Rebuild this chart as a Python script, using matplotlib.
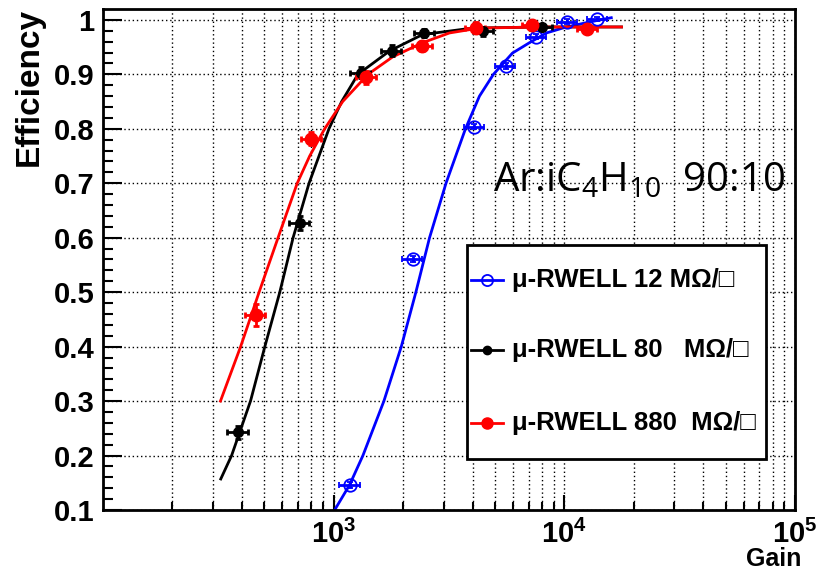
import matplotlib
matplotlib.use("Agg")
import matplotlib.pyplot as plt
from matplotlib.lines import Line2D
from matplotlib.patches import Rectangle
from matplotlib.ticker import FixedLocator, NullFormatter

plt.rcParams['font.family'] = ['Liberation Sans', 'DejaVu Sans']
plt.rcParams['mathtext.fontset'] = 'custom'
plt.rcParams['mathtext.rm'] = 'Open Sans'
plt.rcParams['mathtext.bf'] = 'Liberation Sans:bold'

black_gain = [384, 713, 1309, 1783, 2470, 4460, 8000]
black_eff = [0.243, 0.627, 0.903, 0.943, 0.976, 0.979, 0.987]
black_xerr = [40, 70, 130, 180, 250, 450, 800]
black_yerr = [0.012, 0.012, 0.010, 0.010, 0.008, 0.008, 0.006]

red_gain = [459, 800, 1385, 2420, 4130, 7260, 12600]
red_eff = [0.458, 0.782, 0.895, 0.952, 0.986, 0.990, 0.984]
red_xerr = [45, 80, 140, 240, 410, 730, 1260]
red_yerr = [0.020, 0.012, 0.012, 0.010, 0.010, 0.008, 0.008]

blue_gain = [1175, 2200, 4070, 5560, 7570, 10300, 13900]
blue_eff = [0.146, 0.561, 0.804, 0.915, 0.969, 0.997, 1.002]
blue_xerr = [120, 220, 400, 550, 750, 1000, 1400]
blue_yerr = [0.005, 0.005, 0.005, 0.005, 0.005, 0.004, 0.004]

# fit curves
black_fit_gain = [324, 361, 436, 503, 584, 667, 782, 954, 1083, 1274, 1748, 2427, 4000, 8000, 17700]
black_fit_eff = [0.157, 0.2, 0.3, 0.4, 0.5, 0.6, 0.7, 0.8, 0.85, 0.9, 0.943, 0.973, 0.985, 0.987, 0.987]

red_fit_gain = [323, 395, 475, 574, 695, 787, 914, 1094, 1408, 1801, 2427, 3177, 4285, 8000, 17700]
red_fit_eff = [0.3, 0.4, 0.5, 0.6, 0.7, 0.75, 0.8, 0.85, 0.9, 0.932, 0.958, 0.976, 0.985, 0.987, 0.987]

blue_fit_gain = [1010, 1172, 1339, 1651, 1964, 2272, 2604, 3069, 3727, 4286, 4927, 5956, 7054, 8359, 10200, 12830, 15980]
blue_fit_eff = [0.1, 0.146, 0.2, 0.3, 0.4, 0.5, 0.6, 0.7, 0.8, 0.86, 0.9, 0.939, 0.958, 0.976, 0.987, 0.996, 1.004]

labels = [u'\u03bc-RWELL 12 M\u03a9/\u25a1',
          u'\u03bc-RWELL 80   M\u03a9/\u25a1',
          u'\u03bc-RWELL 880  M\u03a9/\u25a1']
colors = ['blue', 'black', 'red']

fig = plt.figure(figsize=(8.19, 5.70), dpi=100)
ax = fig.add_axes([103 / 819, 60 / 570, 692 / 819, 501 / 570])

# fit lines
ax.plot(blue_fit_gain, blue_fit_eff, color='blue', lw=2)
ax.plot(black_fit_gain, black_fit_eff, color='black', lw=2)
ax.plot(red_fit_gain, red_fit_eff, color='red', lw=2)

# data with error bars
ax.errorbar(blue_gain, blue_eff, xerr=blue_xerr, yerr=blue_yerr, fmt='o', color='blue',
            mfc='none', mec='blue', ms=9, mew=1.3, elinewidth=2, capsize=2, capthick=2)
ax.errorbar(black_gain, black_eff, xerr=black_xerr, yerr=black_yerr, fmt='o', color='black',
            ms=7, elinewidth=2, capsize=2, capthick=2)
ax.errorbar(red_gain, red_eff, xerr=red_xerr, yerr=red_yerr, fmt='o', color='red',
            ms=9, elinewidth=2, capsize=2, capthick=2)

ax.set_xscale('log')
ax.set_xlim(100, 1e5)
ax.set_ylim(0.1, 1.02)

# ticks ROOT style
ax.set_xticks([1e3, 1e4, 1e5])
ax.set_xticklabels([r'$\mathbf{10^{3}}$', r'$\mathbf{10^{4}}$', r'$\mathbf{10^{5}}$'])
ax.xaxis.set_minor_locator(FixedLocator([m * 10 ** d for d in (2, 3, 4) for m in range(2, 10)]))
ax.xaxis.set_minor_formatter(NullFormatter())
yt = [0.1, 0.2, 0.3, 0.4, 0.5, 0.6, 0.7, 0.8, 0.9, 1.0]
ax.set_yticks(yt)
ax.set_yticklabels(['0.1', '0.2', '0.3', '0.4', '0.5', '0.6', '0.7', '0.8', '0.9', '1'])
ax.yaxis.set_minor_locator(FixedLocator([0.1 + 0.02 * i for i in range(46)]))
ax.tick_params(which='both', direction='in', top=False, right=False, width=1.5)
ax.tick_params(axis='y', which='major', length=14, pad=6, labelsize=21)
ax.tick_params(axis='y', which='minor', length=7)
ax.tick_params(axis='x', which='major', length=11, pad=7, labelsize=21)
ax.tick_params(axis='x', which='minor', length=6)
for lab in ax.get_yticklabels():
    lab.set_fontweight('bold')
for s in ax.spines.values():
    s.set_linewidth(2)

ax.grid(True, which='major', color='black', linestyle=(0, (1, 2)), lw=1)
ax.grid(True, which='minor', axis='x', color='black', linestyle=(0, (1, 2)), lw=1)

fig.text(29 / 819, 1 - 8 / 570, 'Efficiency', rotation=90, ha='center', va='top',
         fontsize=24, fontweight='bold')
fig.text(801 / 819, 1 - 559 / 570, 'Gain', ha='right', va='center',
         fontsize=18, fontweight='bold')

ax.text(0.5636, 0.635, r'Ar:iC$_4$H$_{10}$  90:10', transform=ax.transAxes,
        fontsize=29, family='Open Sans', ha='left', va='baseline')

# legend box drawn by hand, ROOT TLegend look
ax.add_patch(Rectangle((0.526, 0.102), 0.432, 0.427, transform=ax.transAxes,
                       facecolor='white', edgecolor='black', lw=2, zorder=5))
entry_y = [0.459, 0.319, 0.174]
marker_kw = [dict(mfc='none', mec='blue', ms=8, mew=1.3), dict(ms=6), dict(ms=8)]
for yy, lab, col, mk in zip(entry_y, labels, colors, marker_kw):
    ax.add_line(Line2D([0.532, 0.578], [yy, yy], color=col, lw=2,
                       transform=ax.transAxes, zorder=6))
    ax.add_line(Line2D([0.555], [yy], color=col, marker='o', transform=ax.transAxes,
                       zorder=7, **mk))
    ax.text(0.591, yy, lab, transform=ax.transAxes, ha='left', va='center',
            fontsize=18.5, fontweight='bold', zorder=7)

fig.savefig('out.png', dpi=100)
